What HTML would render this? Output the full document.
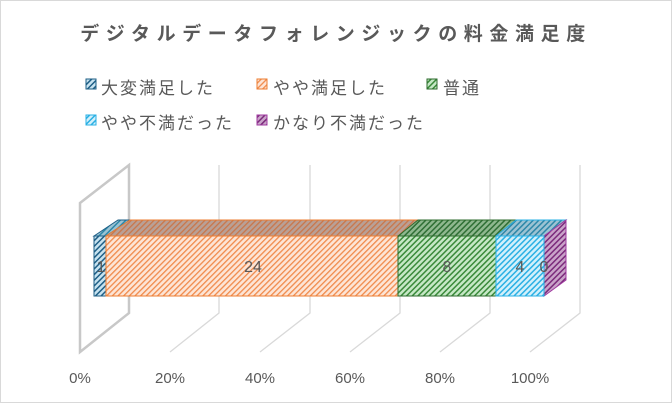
<!DOCTYPE html>
<html><head><meta charset="utf-8"><style>
body{margin:0;background:#fff}
svg{display:block}
text{font-family:"Liberation Sans","Noto Sans CJK JP",sans-serif;fill:#595959}
</style></head><body>
<svg width="672" height="403" viewBox="0 0 672 403" xmlns="http://www.w3.org/2000/svg">
<defs>
<pattern id="pb" width="4" height="4" patternUnits="userSpaceOnUse" patternTransform="rotate(45)"><rect width="4" height="4" fill="#c7e3f0"/><rect width="1.5" height="4" fill="#1f5f86"/></pattern>
<pattern id="po" width="4" height="4" patternUnits="userSpaceOnUse" patternTransform="rotate(45)"><rect width="4" height="4" fill="#fde5d6"/><rect width="1.3" height="4" fill="#f08a4b"/></pattern>
<pattern id="pot" width="4" height="4" patternUnits="userSpaceOnUse" patternTransform="rotate(45)"><rect width="4" height="4" fill="#b9a096"/><rect width="1.3" height="4" fill="#c9764a"/></pattern>
<pattern id="pg" width="4" height="4" patternUnits="userSpaceOnUse" patternTransform="rotate(45)"><rect width="4" height="4" fill="#c6e8c6"/><rect width="1.5" height="4" fill="#3a8a3a"/></pattern>
<pattern id="pgt" width="4" height="4" patternUnits="userSpaceOnUse" patternTransform="rotate(45)"><rect width="4" height="4" fill="#8fb88f"/><rect width="1.5" height="4" fill="#2f6f35"/></pattern>
<pattern id="pc" width="4" height="4" patternUnits="userSpaceOnUse" patternTransform="rotate(45)"><rect width="4" height="4" fill="#d2f0fb"/><rect width="1.5" height="4" fill="#2ab0e4"/></pattern>
<pattern id="pct" width="4" height="4" patternUnits="userSpaceOnUse" patternTransform="rotate(45)"><rect width="4" height="4" fill="#9cc3d3"/><rect width="1.5" height="4" fill="#2e87a8"/></pattern>
<pattern id="pp" width="4" height="4" patternUnits="userSpaceOnUse" patternTransform="rotate(45)"><rect width="4" height="4" fill="#c9a3c9"/><rect width="1.5" height="4" fill="#7b2a7b"/></pattern>
</defs>
<rect x="0.5" y="0.5" width="671" height="402" fill="#fff" stroke="#d9d9d9"/>
<text x="336" y="40" font-size="19" font-weight="bold" text-anchor="middle" letter-spacing="6.6">デジタルデータフォレンジックの料金満足度</text>
<g font-size="17" letter-spacing="2">
<rect x="86" y="79" width="10" height="10" fill="url(#pb)" stroke="#1f5f86"/><text x="101" y="94">大変満足した</text>
<rect x="257" y="79" width="10" height="10" fill="url(#po)" stroke="#ed7d31"/><text x="273" y="94">やや満足した</text>
<rect x="427" y="79" width="10" height="10" fill="url(#pg)" stroke="#2e6b2e"/><text x="443" y="94">普通</text>
<rect x="86" y="115" width="10" height="10" fill="url(#pc)" stroke="#2ab0e4"/><text x="101" y="129">やや不満だった</text>
<rect x="257" y="115" width="10" height="10" fill="url(#pp)" stroke="#a03aa0"/><text x="273" y="129">かなり不満だった</text>
</g>
<g stroke="#d9d9d9" stroke-width="1.3" fill="none">
<path d="M219 165V313L170 352M310 165V313L260 352M400 165V313L350 352M490 165V313L440 352M580 165V313L530 352"/>
</g>
<path d="M80 203L129 165V313L80 352Z" fill="none" stroke="#c8c8c8" stroke-width="2.5"/>
<polygon points="94,236 118,220 130,220 106,236" fill="url(#pct)" stroke="#1f5f86"/>
<polygon points="106,236 130,220 418,220 398,236" fill="url(#pot)" stroke="#ed7d31"/>
<polygon points="398,236 418,220 516,220 496,236" fill="url(#pgt)" stroke="#2e6b2e"/>
<polygon points="496,236 516,220 566,220 544,236" fill="url(#pct)" stroke="#2ab0e4"/>
<polygon points="544,236 566,220 566,280 544,296" fill="url(#pp)" stroke="#a03aa0"/>
<rect x="94" y="236" width="12" height="60" fill="url(#pb)" stroke="#1f5f86"/>
<rect x="106" y="236" width="292" height="60" fill="url(#po)" stroke="#ed7d31"/>
<rect x="398" y="236" width="98" height="60" fill="url(#pg)" stroke="#2e6b2e"/>
<rect x="496" y="236" width="48" height="60" fill="url(#pc)" stroke="#2ab0e4"/>
<g font-size="16" text-anchor="middle">
<text x="101" y="272">1</text><text x="253" y="272">24</text><text x="447" y="272">8</text><text x="520" y="272">4</text><text x="544" y="272">0</text>
</g>
<g font-size="15" text-anchor="middle">
<text x="80" y="383">0%</text><text x="170" y="383">20%</text><text x="260" y="383">40%</text><text x="350" y="383">60%</text><text x="440" y="383">80%</text><text x="530" y="383">100%</text>
</g>
</svg>
</body></html>
